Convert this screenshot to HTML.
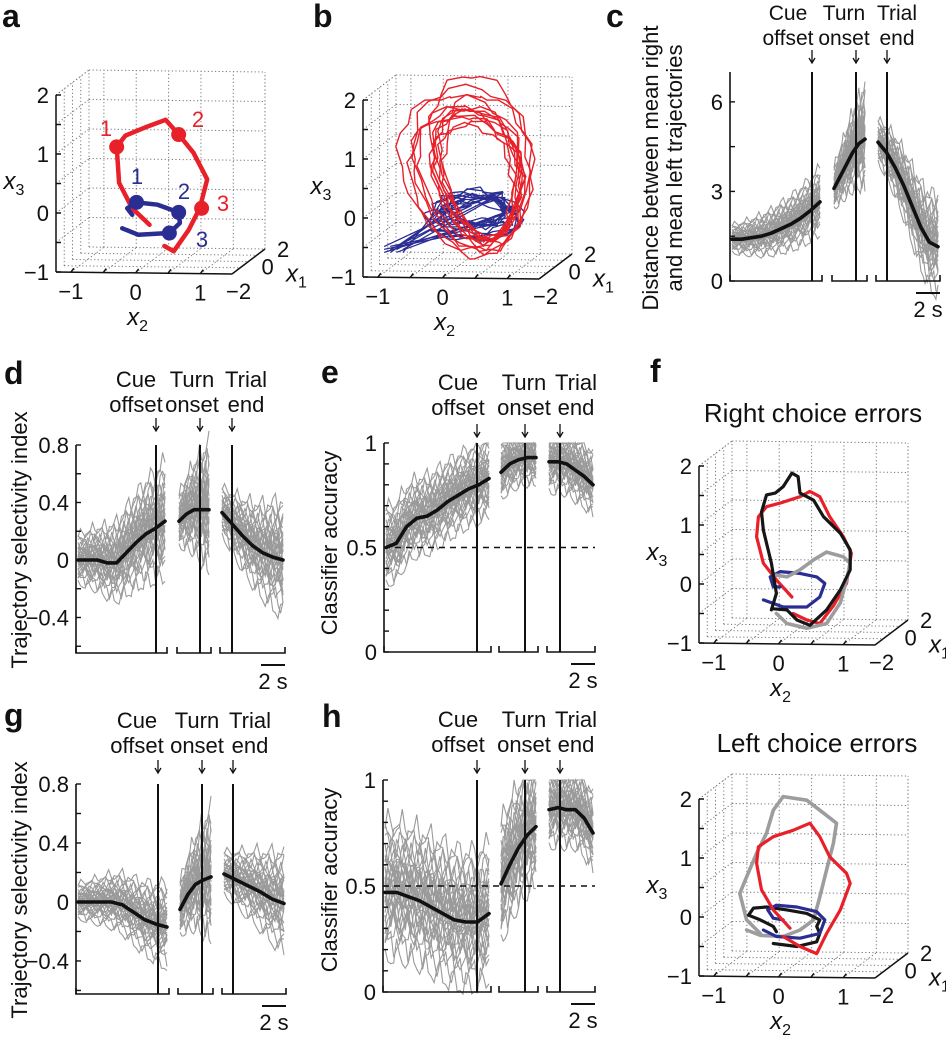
<!DOCTYPE html>
<html><head><meta charset="utf-8">
<style>
html,body{margin:0;padding:0;background:#fff;}
svg{display:block;font-family:"Liberation Sans",Arial,sans-serif;}
</style></head>
<body>
<svg id="fig" width="946" height="1046" viewBox="0 0 946 1046" xmlns="http://www.w3.org/2000/svg"></svg>
<script>
// ---------- DATA ----------
const cSeg1 = [1.4,1.4,1.45,1.5,1.6,1.75,1.9,2.1,2.35,2.65];
const cSeg2 = [3.1,3.5,3.9,4.3,4.6,4.75];
const cSeg3 = [4.65,4.3,3.8,3.2,2.5,1.8,1.3,1.15];
const cSpread = [0.55,0.85,0.85];
const cTicks = [0,3,6];
const dSeg1 = [0,0,0,-0.02,-0.02,0.05,0.12,0.18,0.22,0.27];
const dSeg2 = [0.27,0.32,0.35,0.35,0.35];
const dSeg3 = [0.33,0.25,0.17,0.1,0.05,0.02,0.0];
const dSpread = [0.2,0.22,0.2];
const dTicks = [-0.4,0,0.4,0.8];
const eSeg1 = [0.5,0.52,0.6,0.64,0.65,0.68,0.72,0.75,0.78,0.8,0.83];
const eSeg2 = [0.86,0.9,0.92,0.93,0.93];
const eSeg3 = [0.91,0.91,0.9,0.87,0.84,0.8];
const eSpread = [0.11,0.08,0.09];
const eTicks = [0,0.5,1];
const gSeg1 = [0,0,0,0,-0.02,-0.07,-0.12,-0.15,-0.17];
const gSeg2 = [-0.05,0.05,0.12,0.15,0.17];
const gSeg3 = [0.19,0.15,0.11,0.07,0.02,-0.01];
const gSpread = [0.14,0.22,0.17];
const gTicks = [-0.4,0,0.4,0.8];
const hSeg1 = [0.47,0.47,0.45,0.43,0.4,0.37,0.34,0.33,0.33,0.37];
const hSeg2 = [0.51,0.6,0.68,0.74,0.78];
const hSeg3 = [0.86,0.87,0.86,0.86,0.82,0.75];
const hSpread = [0.19,0.17,0.11];
const hTicks = [0,0.5,1];
const traceOffsets = [-1.2,-0.9,-0.7,-0.5,-0.4,-0.3,-0.2,-0.1,0,0.05,0.1,0.2,0.25,0.3,0.4,0.5,0.6,0.7,0.8,0.9,1.0,1.2,1.4,-0.6,-0.15,0.15,0.35,0.55,-0.35,-0.8,1.6,-1.5];

const aRedX2 = [-0.04,-0.32,-0.53,-0.57,-0.43,-0.11,0.22,0.43,0.67,0.89,0.77,0.59,0.35,0.2];
const aRedX3 = [-0.42,-0.14,0.29,0.90,1.09,1.23,1.36,1.11,0.80,0.35,-0.14,-0.51,-0.87,-0.78];
const aBlueX2 = [-0.32,-0.40,-0.25,0.09,0.43,0.45,0.28,-0.22,-0.48];
const aBlueX3 = [-0.25,-0.14,-0.04,-0.08,-0.21,-0.39,-0.56,-0.59,-0.48];
const aRedDotX2 = [-0.57,0.43,0.80], aRedDotX3 = [0.90,1.11,-0.14];
const aBlueDotX2 = [-0.25,0.43,0.28], aBlueDotX3 = [-0.04,-0.21,-0.56];
const bRedCx = [0.1,0.15,0.0,0.2,-0.1,0.25,0.1,0.05,0.3,0.15,0.2,0.0,0.12];
const bRedCy = [0.6,0.5,0.45,0.7,0.55,0.4,0.35,0.5,0.6,0.45,0.55,0.3,0.5];
const bRedRx = [1.1,0.75,1.0,0.9,1.15,0.7,0.75,0.95,0.85,0.65,0.8,1.05,0.8];
const bRedRy = [1.4,1.1,1.2,1.5,1.3,1.0,1.0,1.15,1.25,1.05,1.1,1.2,1.08];
const bBlueCx = [0.3,0.25,0.35,0.2,0.3,0.4,0.15,0.3,0.25,0.35,0.2,0.3];
const bBlueCy = [-0.15,-0.1,-0.2,-0.05,-0.25,-0.15,-0.1,0.0,-0.3,-0.12,-0.2,-0.08];
const bBlueRx = [0.6,0.5,0.7,0.55,0.65,0.45,0.6,0.5,0.7,0.55,0.75,0.4];
const bBlueRy = [0.3,0.25,0.35,0.28,0.32,0.22,0.3,0.26,0.3,0.2,0.33,0.24];
const fTopBlackX2 = [-0.38,-0.30,-0.38,-0.51,-0.54,-0.46,-0.32,-0.19,-0.05,0.05,0.08,0.30,0.46,0.73,0.89,0.89,0.73,0.51,0.24,0.03,-0.13,-0.35];
const fTopBlackX3 = [-0.66,-0.38,0.13,0.69,1.0,1.29,1.32,1.43,1.66,1.60,1.32,1.20,0.92,0.64,0.36,0.02,-0.32,-0.66,-0.92,-0.83,-0.66,-0.64];
const fTopRedX2 = [-0.05,-0.30,-0.51,-0.62,-0.59,-0.46,-0.24,0.08,0.24,0.40,0.56,0.78,0.91,0.83,0.62,0.40,0.19,-0.03];
const fTopRedX3 = [-0.44,-0.15,0.13,0.58,0.92,1.09,1.15,1.26,1.35,1.26,0.92,0.58,0.30,-0.21,-0.59,-0.89,-0.83,-0.72];
const fTopGrayX2 = [-0.30,-0.13,0.19,0.51,0.73,0.83,0.89,0.78,0.51,0.30,0.08,-0.13,-0.30];
const fTopGrayX3 = [-0.72,-0.89,-0.97,-0.89,-0.54,-0.15,0.13,0.24,0.32,0.19,0.02,-0.10,-0.07];
const fTopBlueX2 = [-0.51,-0.19,0.19,0.40,0.48,0.35,0.08,-0.24,-0.40,-0.35,-0.24];
const fTopBlueX3 = [-0.49,-0.61,-0.61,-0.44,-0.21,-0.10,-0.04,-0.01,-0.10,-0.27,-0.27];
const fBotGrayX2 = [-0.78,-0.56,-0.19,0.08,0.30,0.40,0.51,0.62,0.67,0.46,0.19,-0.19,-0.35,-0.46,-0.62,-0.78,-0.89,-0.78,-0.56];
const fBotGrayX3 = [-0.44,-0.53,-0.55,-0.44,-0.27,0.12,0.58,1.03,1.37,1.54,1.76,1.82,1.59,1.20,0.86,0.46,0.18,-0.27,-0.50];
const fBotRedX2 = [-0.08,-0.35,-0.54,-0.62,-0.59,-0.35,-0.03,0.24,0.40,0.56,0.83,0.89,0.73,0.51,0.35,0.08,-0.19];
const fBotRedX3 = [-0.41,-0.10,0.24,0.69,0.97,1.14,1.25,1.37,1.14,0.80,0.52,0.35,-0.10,-0.50,-0.84,-0.72,-0.55];
const fBotBlueX2 = [-0.51,-0.30,0.08,0.40,0.48,0.35,0.03,-0.30,-0.44,-0.35,-0.19];
const fBotBlueX3 = [-0.44,-0.55,-0.58,-0.50,-0.27,-0.13,-0.05,-0.02,-0.10,-0.24,-0.27];
const fBotBlackX2 = [-0.35,0.03,0.35,0.40,0.35,0.40,0.19,-0.13,-0.46,-0.67,-0.75,-0.56,-0.35,-0.30];
const fBotBlackX3 = [-0.67,-0.72,-0.64,-0.50,-0.38,-0.27,-0.16,-0.10,-0.05,-0.07,-0.19,-0.27,-0.38,-0.47];

// ---------- HELPERS ----------
const NS = "http://www.w3.org/2000/svg";
const svg = document.getElementById('fig');
function mk(tag, attrs, parent) {
  const e = document.createElementNS(NS, tag);
  for (const k in attrs) e.setAttribute(k, attrs[k]);
  (parent || svg).appendChild(e);
  return e;
}
function txt(x, y, s, size, anchor, parent, extra) {
  const t = mk('text', Object.assign({x: x, y: y, 'font-size': size, 'text-anchor': anchor || 'middle', fill: '#111'}, extra || {}), parent);
  t.textContent = s;
  return t;
}
function pts(arr) { return arr.map(p => p[0].toFixed(1) + ',' + p[1].toFixed(1)).join(' '); }
function fmt(v) { return (v < 0 ? '\u2212' : '') + String(Math.abs(v)); }

function panelLetter(x, y, s) {
  const t = txt(x, y, s, 32, 'start', svg, {'font-weight': 'bold'});
  
  
}
function axisLabelVert(x, y, lines, size, name) {
  const g = mk('g', {});
  
  
  lines.forEach((s, i) => {
    txt(0, 0, s, size, 'middle', g, {transform: 'translate(' + (x + i * 24) + ',' + y + ') rotate(-90)'});
  });
}

function linePanel(cfg) {
  const g = mk('g', {});
  
  
  const Y = v => cfg.y0 - (v - cfg.vmin) / (cfg.vmax - cfg.vmin) * (cfg.y0 - cfg.yTop);
  const segs = [cfg.s1, cfg.s2, cfg.s3];
  const xs = cfg.segX;
  const fs = cfg.fs || 22;
  const grey = mk('g', {}, g);
  
  
  segs.forEach((seg, si) => {
    const [x0, x1] = xs[si];
    const nSub = (seg.length - 1) * 4;
    traceOffsets.forEach((off, ti) => {
      const p = [];
      for (let k = 0; k <= nSub; k++) {
        const f = k / nSub * (seg.length - 1);
        const j = Math.floor(f), fr = f - j;
        const m = j >= seg.length - 1 ? seg[seg.length - 1] : seg[j] * (1 - fr) + seg[j + 1] * fr;
        const sp = cfg.spread[si] * (cfg.grow ? (0.5 + 0.7 * k / nSub) : 1);
        let v = m + off * sp * 1.05 + sp * 0.3 * Math.sin(k * 1.3 + ti * 2.1) + sp * 0.15 * Math.sin(k * 3.7 + ti);
        if (cfg.clip) v = Math.min(cfg.clip, v);
        p.push([x0 + 2 + (x1 - x0 - 4) * k / nSub, Y(v)]);
      }
      const pl = mk('polyline', {points: pts(p), fill: 'none', stroke: '#9a9a9a', 'stroke-width': 1.1}, grey);
      
      
    });
  });
  if (cfg.chance !== undefined) {
    const dl = mk('line', {x1: cfg.ax, x2: xs[2][1], y1: Y(cfg.chance), y2: Y(cfg.chance), stroke: '#111', 'stroke-width': 1.6, 'stroke-dasharray': '6,5'}, g);
    
    
  }
  cfg.ev.forEach((ex, i) => {
    const l = mk('line', {x1: ex, x2: ex, y1: cfg.yTop, y2: cfg.y0, stroke: '#111', 'stroke-width': 2}, g);
    
    
    mk('line', {x1: ex, x2: ex, y1: cfg.arrowY, y2: cfg.arrowY + 12, stroke: '#111', 'stroke-width': 1.3}, g);
    mk('polyline', {points: (ex - 3) + ',' + (cfg.arrowY + 8) + ' ' + ex + ',' + (cfg.arrowY + 13) + ' ' + (ex + 3) + ',' + (cfg.arrowY + 8), fill: 'none', stroke: '#111', 'stroke-width': 1.3}, g);
  });
  const evText = [['Cue', 'offset'], ['Turn', 'onset'], ['Trial', 'end']];
  evText.forEach((pair, i) => {
    const t1 = txt(cfg.ev[i] + cfg.txtOff[i], cfg.txtY, pair[0], fs, 'middle', g);
    
    
    const t2 = txt(cfg.ev[i] + cfg.txtOff[i], cfg.txtY + 25, pair[1], fs, 'middle', g);
    
    
  });
  segs.forEach((seg, si) => {
    const [x0, x1] = xs[si];
    const p = seg.map((v, j) => [x0 + 2 + (x1 - x0 - 4) * j / (seg.length - 1), Y(v)]);
    const pl = mk('polyline', {points: pts(p), fill: 'none', stroke: '#111', 'stroke-width': 3.6, 'stroke-linejoin': 'round', 'stroke-linecap': 'round'}, g);
    
    
  });
  const ya = mk('g', {}, g);
  
  
  mk('line', {x1: cfg.ax, x2: cfg.ax, y1: cfg.yTop, y2: cfg.y0, stroke: '#111', 'stroke-width': 1.6}, ya);
  for (let v = cfg.minorStart; v <= cfg.vmax + 1e-6; v += cfg.minor) {
    mk('line', {x1: cfg.ax, x2: cfg.ax + 5, y1: Y(v), y2: Y(v), stroke: '#111', 'stroke-width': 1.4}, ya);
  }
  cfg.ticks.forEach(v => {
    const t = txt(cfg.ax - 7, Y(v) + 8, fmt(v), 22, 'end', ya);
    
    
  });
  xs.forEach(([x0, x1]) => {
    const s = mk('polyline', {points: x0 + ',' + (cfg.y0 - 6) + ' ' + x0 + ',' + cfg.y0 + ' ' + x1 + ',' + cfg.y0 + ' ' + x1 + ',' + (cfg.y0 - 6), fill: 'none', stroke: '#111', 'stroke-width': 1.6}, g);
    
    
  });
  const sb = mk('g', {}, g);
  
  
  const sbx = xs[2][1];
  mk('line', {x1: sbx - 24, x2: sbx, y1: cfg.y0 + 12, y2: cfg.y0 + 12, stroke: '#111', 'stroke-width': 2}, sb);
  txt(sbx - 12, cfg.y0 + 36, '2 s', 22, 'middle', sb);
  return g;
}

const A = [176, 2], B = [33, -25], C = [0, -177];
function box3d(cfg) {
  const g = mk('g', {});
  
  
  const ox = cfg.ox, oy = cfg.oy;
  const P = (u, v, w) => [ox + u * A[0] + v * B[0] + w * C[0], oy + u * A[1] + v * B[1] + w * C[1]];
  const uOf = x2 => (x2 + 1.23) / 2.72, wOf = x3 => (x3 + 1) / 3;
  const gx2 = [-1, -0.5, 0, 0.5, 1, 1.49], gx3 = [-0.5, 0, 0.5, 1, 1.5, 2], gv = [0, 0.25, 0.5, 0.75, 1];
  const grid = mk('g', {stroke: '#777', 'stroke-width': 1, 'stroke-dasharray': '1.2,2.4', fill: 'none'}, g);
  
  
  const L = (a, b) => mk('line', {x1: a[0], y1: a[1], x2: b[0], y2: b[1]}, grid);
  gx2.forEach(x => { const u = uOf(x); L(P(u, 1, 0), P(u, 1, 1)); L(P(u, 0, 0), P(u, 1, 0)); });
  L(P(1, 1, 0), P(1, 1, 1));
  gx3.forEach(z => { const w = wOf(z); L(P(0, 1, w), P(1, 1, w)); L(P(0, 0, w), P(0, 1, w)); });
  gv.forEach(v => { L(P(0, v, 0), P(0, v, 1)); L(P(0, v, 0), P(1, v, 0)); });
  L(P(0, 0, 1), P(0, 1, 1));
  const ax = mk('g', {stroke: '#111', 'stroke-width': 1.5, fill: 'none'}, g);
  
  
  const AL = (a, b) => mk('line', {x1: a[0], y1: a[1], x2: b[0], y2: b[1]}, ax);
  AL(P(0, 0, 0), P(0, 0, 1)); AL(P(0, 0, 0), P(1, 0, 0)); AL(P(1, 0, 0), P(1, 1, 0));
  [-1, -0.5, 0, 0.5, 1, 1.5, 2].forEach(z => { const p = P(0, 0, wOf(z)); AL(p, [p[0] + 5, p[1]]); });
  [-1, -0.5, 0, 0.5, 1].forEach(x => { const p = P(uOf(x), 0, 0); AL(p, [p[0] + 3, p[1] - 4]); });
  [-1, 0, 1, 2].forEach(z => { const p = P(0, 0, wOf(z)); const t = txt(p[0] - 7, p[1] + 8, fmt(z), 22, 'end', g);   });
  [-1, 0, 1].forEach(x => { const p = P(uOf(x), 0, 0); const t = txt(p[0], p[1] + 27, fmt(x), 22, 'middle', g);   });
  let p = P(1, 0, 0); let t = txt(p[0] - 6, p[1] + 25, '\u22122', 22, 'start', g);  
  p = P(1, 0.5, 0); t = txt(p[0] + 13, p[1] + 13, '0', 22, 'start', g);  
  p = P(1, 1, 0); t = txt(p[0] + 12, p[1] + 8, '2', 22, 'start', g);  
  const axLab = (x, y, sub, name) => {
    const tt = mk('text', {x: x, y: y, 'font-size': 24, 'text-anchor': 'middle', fill: '#111'}, g);
    
    
    const a1 = mk('tspan', {'font-style': 'italic'}, tt); a1.textContent = 'x';
    const a2 = mk('tspan', {'font-size': 16, dy: 6}, tt); a2.textContent = sub;
  };
  axLab(ox - 42, oy - 83, '3', 'x3-axis-title');
  p = P(uOf(0), 0, 0); axLab(p[0] + 2, p[1] + 52, '2', 'x2-axis-title');
  p = P(1, 0.5, 0); axLab(p[0] + 48, p[1] + 20, '1', 'x1-axis-title');
  const map = (x2, x3) => [ox + 96 + 62 * x2, oy - 13 - 59 * (x3 + 1)];
  return {g: g, map: map};
}
function traj(panel, xs, zs, color, width, name) {
  const p = xs.map((x, i) => panel.map(x, zs[i]));
  const pl = mk('polyline', {points: pts(p), fill: 'none', stroke: color, 'stroke-width': width, 'stroke-linejoin': 'round', 'stroke-linecap': 'round'}, panel.g);
  
  
  return pl;
}

const RED = '#e8202a', BLUE = '#2a2d92', GREY = '#9d9d9d', BLACK = '#161616';

panelLetter(2, 27, 'a'); panelLetter(313, 27, 'b'); panelLetter(606, 27, 'c');
panelLetter(4, 384, 'd'); panelLetter(321, 383, 'e'); panelLetter(650, 382, 'f');
panelLetter(4, 726, 'g'); panelLetter(322, 727, 'h');

// PANEL A
const pa = box3d({name: 'panel-a-mean-trajectories', ox: 56, oy: 272});
traj(pa, aRedX2, aRedX3, RED, 4.5, 'right-trial-mean-trajectory');
traj(pa, aBlueX2, aBlueX3, BLUE, 4.5, 'left-trial-mean-trajectory');
aRedDotX2.forEach((x, i) => { const q = pa.map(x, aRedDotX3[i]); const c = mk('circle', {cx: q[0], cy: q[1], r: 7.5, fill: RED}, pa.g);   });
aBlueDotX2.forEach((x, i) => { const q = pa.map(x, aBlueDotX3[i]); const c = mk('circle', {cx: q[0], cy: q[1], r: 7.5, fill: BLUE}, pa.g);   });
[['1', 106, 136, RED], ['2', 198, 127, RED], ['3', 223, 211, RED], ['1', 137, 184, BLUE], ['2', 184, 199, BLUE], ['3', 202, 247, BLUE]].forEach(a => {
  const t = txt(a[1], a[2], a[0], 22, 'middle', pa.g, {fill: a[3]});
  
  
});

// PANEL B
const pb = box3d({name: 'panel-b-single-trials', ox: 363, oy: 277});
bBlueCx.forEach((cx, i) => {
  const xs = [], zs = [];
  xs.push(-1.2 + 0.1 * (i % 4)); zs.push(-0.8 + 0.05 * (i % 3));
  for (let k = 0; k <= 24; k++) {
    const t = k / 24 * 2 * Math.PI * 1.1 + i;
    xs.push(cx + bBlueRx[i] * Math.cos(t) + 0.05 * Math.sin(k * 2.3 + i));
    zs.push(bBlueCy[i] + bBlueRy[i] * Math.sin(t) + 0.05 * Math.cos(k * 1.7 + i));
  }
  traj(pb, xs, zs, BLUE, 1.3, 'left-single-trial');
});
bRedCx.forEach((cx, i) => {
  const xs = [], zs = [];
  for (let k = 0; k <= 30; k++) {
    const t = k / 30 * 2 * Math.PI;
    const skew = 0.3 * (1 - Math.cos(t)) / 2;
    xs.push(cx + bRedRx[i] * Math.sin(t) * (0.85 + 0.15 * Math.cos(t)) + skew + 0.05 * Math.sin(k * 2.1 + i));
    zs.push(bRedCy[i] + bRedRy[i] * Math.cos(t) + 0.05 * Math.cos(k * 1.9 + i));
  }
  traj(pb, xs, zs, RED, 1.4, 'right-single-trial');
});

// PANEL C
linePanel({name: 'panel-c-distance', ax: 730, yTop: 72, y0: 281, vmin: 0, vmax: 7.0, fs: 21,
  s1: cSeg1, s2: cSeg2, s3: cSeg3, spread: cSpread, grow: true, ticks: cTicks, minor: 1.5, minorStart: 0,
  segX: [[730, 822], [832, 867], [876, 940]], ev: [812, 856, 887], txtOff: [-24, -12, 10], txtY: 20, arrowY: 50});
axisLabelVert(658, 168, ['Distance between mean right', 'and mean left trajectories'], 22, 'y-axis-title-c');

// PANEL D
linePanel({name: 'panel-d-selectivity', ax: 76, yTop: 445, y0: 653, vmin: -0.647, vmax: 0.8,
  s1: dSeg1, s2: dSeg2, s3: dSeg3, spread: dSpread, grow: true, ticks: dTicks, minor: 0.2, minorStart: -0.6,
  segX: [[76, 167], [177, 211], [220, 285]], ev: [156, 200, 232], txtOff: [-20, -8, 14], txtY: 387, arrowY: 418});
axisLabelVert(27, 540, ['Trajectory selectivity index'], 22, 'y-axis-title-d');

// PANEL E
linePanel({name: 'panel-e-classifier', ax: 384, yTop: 443, y0: 652, vmin: 0, vmax: 1,
  s1: eSeg1, s2: eSeg2, s3: eSeg3, spread: eSpread, grow: false, clip: 1, ticks: eTicks, minor: 0.1, minorStart: 0, chance: 0.5,
  segX: [[384, 491], [499, 538], [547, 595]], ev: [477, 525, 560], txtOff: [-19, -1, 16], txtY: 390, arrowY: 424});
axisLabelVert(337, 543, ['Classifier accuracy'], 22, 'y-axis-title-e');

// PANEL G
linePanel({name: 'panel-g-selectivity-errors', ax: 76, yTop: 784, y0: 994, vmin: -0.624, vmax: 0.8,
  s1: gSeg1, s2: gSeg2, s3: gSeg3, spread: gSpread, grow: true, ticks: gTicks, minor: 0.2, minorStart: -0.6,
  segX: [[76, 169], [178, 213], [222, 286]], ev: [158, 202, 233], txtOff: [-21, -5, 17], txtY: 728, arrowY: 760});
axisLabelVert(27, 890, ['Trajectory selectivity index'], 22, 'y-axis-title-g');

// PANEL H
linePanel({name: 'panel-h-classifier-errors', ax: 383, yTop: 780, y0: 992, vmin: 0, vmax: 1,
  s1: hSeg1, s2: hSeg2, s3: hSeg3, spread: hSpread, grow: false, clip: 1, ticks: hTicks, minor: 0.1, minorStart: 0, chance: 0.5,
  segX: [[383, 491], [499, 538], [547, 595]], ev: [477, 525, 560], txtOff: [-19, -1, 16], txtY: 727, arrowY: 760});
axisLabelVert(337, 880, ['Classifier accuracy'], 22, 'y-axis-title-h');

// PANEL F
let tt = txt(813, 422, 'Right choice errors', 26, 'middle');


const pf1 = box3d({name: 'panel-f-right-choice-errors', ox: 699, oy: 643});
traj(pf1, fTopRedX2, fTopRedX3, RED, 3.2, 'correct-right-trajectory');
traj(pf1, fTopBlueX2, fTopBlueX3, BLUE, 3.2, 'correct-left-trajectory');
traj(pf1, fTopGrayX2, fTopGrayX3, GREY, 3.6, 'error-left-trajectory');
traj(pf1, fTopBlackX2, fTopBlackX3, BLACK, 3.2, 'error-right-trajectory');

tt = txt(817, 752, 'Left choice errors', 26, 'middle');


const pf2 = box3d({name: 'panel-f-left-choice-errors', ox: 699, oy: 976});
traj(pf2, fBotGrayX2, fBotGrayX3, GREY, 3.6, 'error-right-trajectory');
traj(pf2, fBotBlackX2, fBotBlackX3, BLACK, 3.2, 'error-left-trajectory');
traj(pf2, fBotBlueX2, fBotBlueX3, BLUE, 3.2, 'correct-left-trajectory');
traj(pf2, fBotRedX2, fBotRedX3, RED, 3.2, 'correct-right-trajectory');
</script>
</body></html>
